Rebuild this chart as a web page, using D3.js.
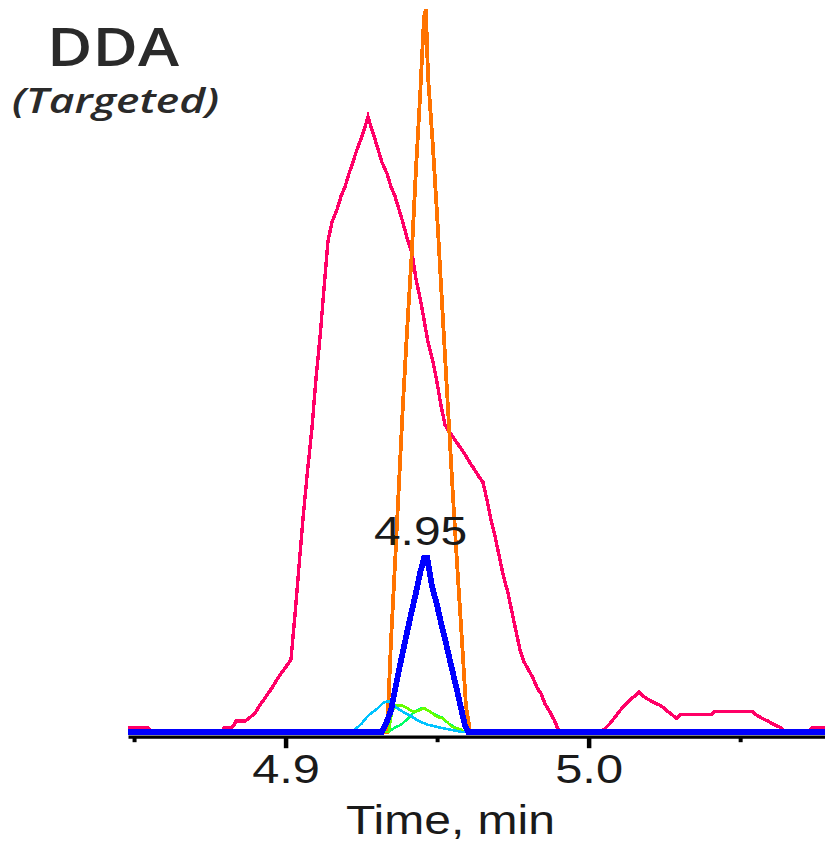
<!DOCTYPE html>
<html>
<head>
<meta charset="utf-8">
<script src="https://cdn.jsdelivr.net/npm/d3@7"></script>
<style>
  html, body { margin: 0; padding: 0; background: #fff; }
  svg { display: block; }
</style>
</head>
<body>
<div id="chart"></div>
<script>
// ---- Data (time in min, relative intensity %) ----
const pinkTime = [4.8480,4.8546,4.8559,4.8790,4.8797,4.8823,4.8830,4.8836,4.8866,4.8879,4.8899,4.8912,4.8927,4.8942,4.8955,4.8968,4.8982,4.8996,4.9011,4.9018,4.9031,4.9044,4.9057,4.9071,4.9087,4.9100,4.9114,4.9127,4.9140,4.9153,4.9170,4.9183,4.9196,4.9209,4.9222,4.9236,4.9252,4.9265,4.9272,4.9279,4.9292,4.9305,4.9318,4.9335,4.9348,4.9361,4.9374,4.9387,4.9401,4.9417,4.9430,4.9444,4.9457,4.9470,4.9486,4.9500,4.9513,4.9526,4.9539,4.9552,4.9569,4.9582,4.9595,4.9609,4.9622,4.9635,4.9651,4.9665,4.9678,4.9691,4.9704,4.9717,4.9734,4.9747,4.9760,4.9774,4.9787,4.9800,4.9816,4.9830,4.9843,4.9856,4.9869,4.9886,4.9899,4.9909,5.0041,5.0057,5.0071,5.0084,5.0097,5.0110,5.0125,5.0140,5.0153,5.0166,5.0179,5.0193,5.0214,5.0236,5.0249,5.0262,5.0275,5.0290,5.0302,5.0404,5.0414,5.0542,5.0552,5.0572,5.0592,5.0613,5.0635,5.0648,5.0727,5.0737,5.0780];
const pinkInt = [0.6,0.6,0,0,0.6,0.6,1.0,1.5,1.5,1.9,2.6,3.5,4.4,5.3,6.1,7.0,7.9,8.7,9.6,10.1,16.2,22.8,29.3,35.5,42.0,48.7,54.8,61.4,67.9,70.5,72.3,74.1,75.4,77.2,78.8,80.6,82.4,84.1,85.1,84.1,82.4,80.6,78.8,77.2,75.4,74.1,72.3,70.5,68.3,66.3,62.7,60.0,57.0,53.9,51.3,48.3,45.1,42.5,41.6,40.8,39.8,39.0,38.2,37.2,36.4,35.5,34.6,32.0,29.3,27.1,24.5,21.9,19.2,16.6,14.0,11.3,9.7,8.7,7.5,6.1,5.3,3.9,3.0,1.7,0.4,0,0,0.6,1.2,1.9,2.6,3.3,3.9,4.6,5.0,5.5,5.0,4.6,4.1,3.7,3.3,2.8,2.4,1.9,2.4,2.4,2.8,2.8,2.4,1.9,1.5,1.0,0.6,0,0,0.6,0.6];

const orangeTime = [4.8480,4.9335,4.9348,4.9361,4.9374,4.9387,4.9401,4.9417,4.9430,4.9444,4.9457,4.9463,4.9470,4.9486,4.9500,4.9513,4.9526,4.9539,4.9552,4.9566,4.9582,4.9595,4.9609,5.0780];
const orangeInt  = [0,0,12.7,23.2,34.2,45.1,55.6,66.7,77.6,88.1,99.0,100,90.7,81.1,71.5,61.8,52.1,42.5,32.9,23.2,12.7,3.7,0,0];

const cyanTime = [4.8480,4.9219,4.9236,4.9252,4.9265,4.9279,4.9292,4.9305,4.9321,4.9338,4.9368,4.9387,4.9414,4.9440,4.9470,4.9510,4.9559,4.9582,5.0780];
const cyanInt  = [0,0,0.6,1.2,1.9,2.5,2.9,3.3,4.0,4.3,3.3,2.8,2.2,1.5,1.0,0.6,0.2,0,0];

const limeTime = [4.8480,4.9341,4.9351,4.9364,4.9384,4.9401,4.9420,4.9437,4.9457,4.9477,4.9500,4.9519,4.9533,4.9549,4.9576,4.9589,5.0780];
const limeInt  = [0,0,2.8,3.7,3.7,3.3,2.8,2.9,3.3,2.8,2.1,1.9,1.4,0.7,0.4,0,0];

const springTime = [4.8480,4.9338,4.9361,4.9381,4.9394,4.9407,4.9420,4.9434,4.9450,4.9470,4.9493,4.9516,4.9529,4.9543,4.9562,4.9586,5.0780];
const springInt  = [0,0,0.6,1.0,1.5,2.0,2.6,3.0,3.3,3.0,2.4,2.0,1.5,1.0,0.6,0,0];

const blueTime = [4.8480,4.9318,4.9331,4.9348,4.9361,4.9374,4.9387,4.9401,4.9414,4.9430,4.9444,4.9457,4.9467,4.9483,4.9500,4.9513,4.9526,4.9539,4.9552,4.9566,4.9579,4.9592,4.9602,5.0780];
const blueInt  = [0,0,1.1,3.0,5.8,8.5,11.1,13.8,16.3,19.2,22.0,24.1,24.1,20.2,17.5,15.1,12.9,10.5,8.2,5.7,3.3,0.9,0,0];

const majorTicks = [4.9, 5.0];
const minorTicks = [4.85, 4.95, 5.05];
const xDomain = [4.848, 5.078];
const yDomain = [0, 100];
const titleText = "DDA";
const subtitleText = "(Targeted)";
const xAxisTitle = "Time, min";

// ---- Layout ----
const W = 825, H = 841;
const svg = d3.select("#chart").append("svg")
  .attr("width", W).attr("height", H)
  .style("background", "#fff");

const x = d3.scaleLinear().domain(xDomain).range([128, 825]);
const y = d3.scaleLinear().domain(yDomain).range([732, 9]);

const line = d3.line().x(d => x(d[0])).y(d => y(d[1]));

const series = [
  {t: pinkTime,   v: pinkInt,   color: "#ff0066", w: 3.4},
  {t: orangeTime, v: orangeInt, color: "#ff7300", w: 3.8},
  {t: springTime, v: springInt, color: "#00ff66", w: 2.6},
  {t: limeTime,   v: limeInt,   color: "#66ff00", w: 2.6},
  {t: cyanTime,   v: cyanInt,   color: "#00c3ff", w: 2.6},
  {t: blueTime,   v: blueInt,   color: "#0000ff", w: 5.8}
];

const plot = svg.append("g");
series.forEach(s => {
  const pts = d3.zip(s.t, s.v);
  plot.append("path")
    .datum(pts)
    .attr("d", line)
    .attr("fill", "none")
    .attr("stroke", s.color)
    .attr("stroke-width", s.w)
    .attr("stroke-linejoin", "miter")
    .attr("shape-rendering", "crispEdges");
});

// Apex label for blue trace
const apexIdx = d3.maxIndex(blueInt);
const apexT = (blueTime[apexIdx] + blueTime[apexIdx + 1]) / 2;
svg.append("text")
  .attr("transform", `translate(${x(apexT) - 5},545) scale(1.2,1)`)
  .attr("text-anchor", "middle")
  .attr("font-family", "Liberation Sans, Arial, sans-serif")
  .attr("font-size", 40)
  .attr("fill", "#1a1a1a")
  .text(d3.format(".2f")(apexT));

// ---- Axes ----
const axisY = 736.7;
const gMinor = svg.append("g").attr("transform", `translate(0,${axisY})`)
  .call(d3.axisBottom(x).tickValues(minorTicks).tickSize(5.5).tickSizeOuter(0).tickFormat(""));
gMinor.select(".domain").remove();
gMinor.selectAll(".tick line").attr("stroke", "#000").attr("stroke-width", 4);

const gMajor = svg.append("g").attr("transform", `translate(0,${axisY})`)
  .call(d3.axisBottom(x).tickValues(majorTicks).tickSize(11.5).tickSizeOuter(0).tickFormat(d3.format(".1f")));
gMajor.select(".domain").attr("stroke", "#000").attr("stroke-width", 3.3);
gMajor.selectAll(".tick line").attr("stroke", "#000").attr("stroke-width", 4.5);
gMajor.selectAll(".tick text")
  .attr("y", 0).attr("dy", 0)
  .attr("transform", "translate(0,46.5) scale(1.22,1)")
  .attr("font-family", "Liberation Sans, Arial, sans-serif")
  .attr("font-size", 40)
  .attr("fill", "#1a1a1a");

svg.append("text")
  .attr("transform", `translate(${(x.range()[0] + x.range()[1]) / 2 - 26},834) scale(1.2,1)`)
  .attr("text-anchor", "middle")
  .attr("font-family", "Liberation Sans, Arial, sans-serif")
  .attr("font-size", 40)
  .attr("fill", "#1a1a1a")
  .text(xAxisTitle);

// ---- Titles ----
svg.append("text")
  .attr("x", 47).attr("y", 66)
  .attr("font-family", "Open Sans, Lato, sans-serif")
  .attr("font-weight", 600)
  .attr("font-size", 53)
  .attr("fill", "#2a2a2a")
  .attr("textLength", 132)
  .attr("lengthAdjust", "spacingAndGlyphs")
  .text(titleText);

svg.append("text")
  .attr("x", 12).attr("y", 113)
  .attr("font-family", "Open Sans, Lato, sans-serif")
  .attr("font-style", "italic")
  .attr("font-weight", 600)
  .attr("font-size", 35)
  .attr("fill", "#2a2a2a")
  .attr("textLength", 207)
  .attr("lengthAdjust", "spacingAndGlyphs")
  .text(subtitleText);
</script>
</body>
</html>
